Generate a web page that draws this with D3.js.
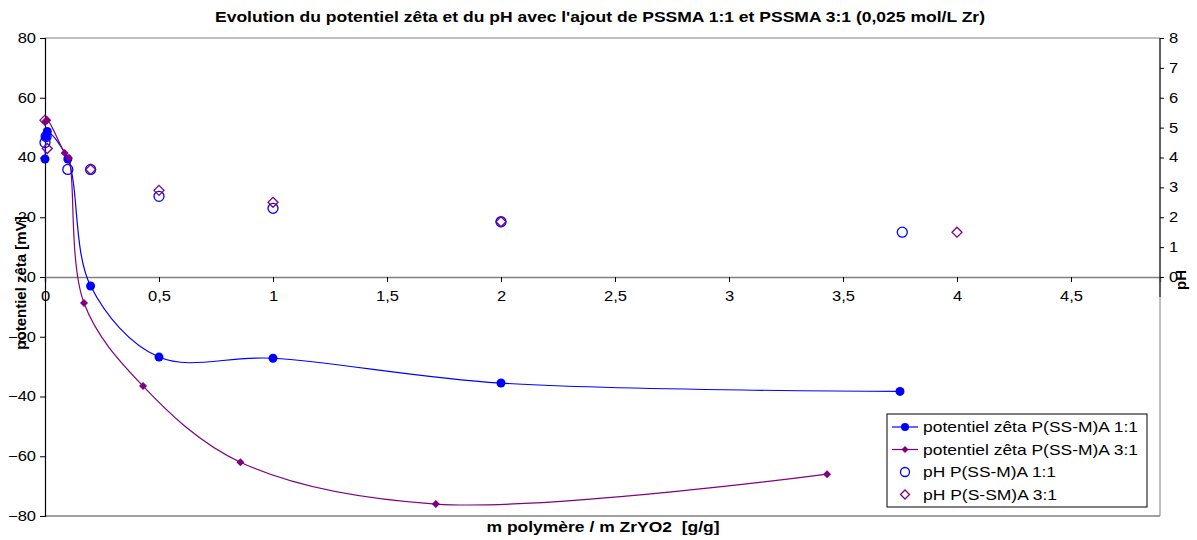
<!DOCTYPE html>
<html>
<head>
<meta charset="utf-8">
<script src="https://cdn.jsdelivr.net/npm/d3@7"></script>
<style>
  body { margin: 0; background: #fff; }
  svg text { font-family: "Liberation Sans", Arial, sans-serif; }
</style>
</head>
<body>
<svg width="1197" height="540"></svg>
<script>
// data
let zetaX11 = [0, 0.005, 0.01, 0.1, 0.2, 0.5, 1, 2, 3.75];
let zeta11 = [39.5, 47, 48.7, 39.5, -3, -26.8, -27.2, -35.5, -38.3];

let zetaX31 = [0, 0.01, 0.086, 0.105, 0.171, 0.43, 0.857, 1.714, 3.43];
let zeta31 = [52, 52.5, 41.5, 39.8, -8.7, -36.5, -62, -76, -66];

let pHX11 = [0, 0.005, 0.1, 0.2, 0.5, 1, 2, 3.76];
let pH11 = [4.5, 4.7, 3.6, 3.6, 2.7, 2.3, 1.85, 1.5];

let pHX31 = [0, 0.01, 0.2, 0.5, 1, 2, 4];
let pH31 = [5.25, 4.3, 3.6, 2.9, 2.5, 1.85, 1.5];

let xTicks = [0, 0.5, 1, 1.5, 2, 2.5, 3, 3.5, 4, 4.5];
let zetaTicks = [-80, -60, -40, -20, 0, 20, 40, 60, 80];
let pHTicks = [0, 1, 2, 3, 4, 5, 6, 7, 8];

let legendLabels = ["potentiel zêta P(SS-M)A 1:1", "potentiel zêta P(SS-M)A 3:1",
  "pH P(SS-M)A 1:1", "pH P(S-SM)A 3:1"];

let svg = d3.select("svg");
let plotL = 45, plotR = 1160, plotT = 38, plotB = 516;
let blue = "#0000ff", purple = "#800080";
let comma = d => String(d).replace(".", ",");

// the reference text is a little wider than the font, so stretch it
function stretch(sel, k) {
  sel.each(function() {
    let w = this.getComputedTextLength();
    d3.select(this).attr("textLength", w * k).attr("lengthAdjust", "spacingAndGlyphs");
  });
}

let x = d3.scaleLinear().domain([0, (plotR - plotL) / 228]).range([plotL, plotR]);
let y = d3.scaleLinear().domain([-80, 80]).range([plotB, plotT]);
let y2 = d3.scaleLinear().domain([0, 8]).range([y(0), y(80)]);

// plot frame
svg.append("line").attr("x1", plotL).attr("x2", plotR).attr("y1", plotT).attr("y2", plotT).attr("stroke", "#808080");
svg.append("line").attr("x1", plotL).attr("x2", plotR).attr("y1", plotB).attr("y2", plotB).attr("stroke", "#808080").attr("stroke-width", 1.5);
svg.append("line").attr("x1", plotR).attr("x2", plotR).attr("y1", plotT).attr("y2", plotB).attr("stroke", "#808080");

// left axis
let gl = svg.append("g").attr("transform", `translate(${plotL},0)`)
  .call(d3.axisLeft(y).tickValues(zetaTicks).tickSize(5).tickPadding(4));
gl.select(".domain").attr("stroke", "#000").attr("stroke-width", 1.2);
gl.selectAll("text").style("font-size", "14px").attr("fill", "#000").call(stretch, 1.18);

// x axis at zero
let gx = svg.append("g").attr("transform", `translate(0,${y(0)})`)
  .call(d3.axisBottom(x).tickValues(xTicks).tickFormat(comma).tickSize(5).tickPadding(9));
gx.select(".domain").attr("stroke", "#808080").attr("stroke-width", 1.5);
gx.selectAll(".tick line").attr("stroke", "#000");
gx.selectAll("text").style("font-size", "14px").attr("fill", "#000").call(stretch, 1.18);

// right pH axis
let gr = svg.append("g").attr("transform", `translate(${plotR},0)`)
  .call(d3.axisRight(y2).tickValues(pHTicks).tickSize(4).tickPadding(5));
gr.select(".domain").remove();
gr.append("line").attr("y1", plotT).attr("y2", y(0) + 20).attr("stroke", "#000");
gr.selectAll("text").style("font-size", "14px").attr("fill", "#000").call(stretch, 1.18);

// curves
let line = d3.line().curve(d3.curveCatmullRom);
let pts = (xs, ys, sy) => xs.map((v, i) => [x(v), sy(ys[i])]);

svg.append("path").attr("d", line(pts(zetaX11, zeta11, y)))
  .attr("fill", "none").attr("stroke", blue).attr("stroke-width", 1.2);
svg.append("path").attr("d", line(pts(zetaX31, zeta31, y)))
  .attr("fill", "none").attr("stroke", purple).attr("stroke-width", 1.2);

let diamond = (s) => `M0,${-s}L${s},0L0,${s}L${-s},0Z`;

svg.append("g").selectAll("circle").data(pts(pHX11, pH11, y2)).join("circle")
  .attr("cx", d => d[0]).attr("cy", d => d[1]).attr("r", 5)
  .attr("fill", "none").attr("stroke", blue).attr("stroke-width", 1.3);
svg.append("g").selectAll("path").data(pts(pHX31, pH31, y2)).join("path")
  .attr("transform", d => `translate(${d[0]},${d[1]})`).attr("d", diamond(5))
  .attr("fill", "none").attr("stroke", purple).attr("stroke-width", 1.3);

svg.append("g").selectAll("circle").data(pts(zetaX11, zeta11, y)).join("circle")
  .attr("cx", d => d[0]).attr("cy", d => d[1]).attr("r", 4.5).attr("fill", blue);
svg.append("g").selectAll("path").data(pts(zetaX31, zeta31, y)).join("path")
  .attr("transform", d => `translate(${d[0]},${d[1]})`).attr("d", diamond(4)).attr("fill", purple);

// titles
svg.append("text").attr("x", 600).attr("y", 22).attr("text-anchor", "middle")
  .style("font-size", "14.5px").style("font-weight", "bold")
  .attr("textLength", 770).attr("lengthAdjust", "spacingAndGlyphs")
  .text("Evolution du potentiel zêta et du pH avec l'ajout de PSSMA 1:1 et PSSMA 3:1 (0,025 mol/L Zr)");
svg.append("text").attr("transform", "translate(26,283) rotate(-90)").attr("text-anchor", "middle")
  .style("font-size", "15px").style("font-weight", "bold").text("potentiel zêta [mV]");
svg.append("text").attr("transform", "translate(1186,280) rotate(-90)").attr("text-anchor", "middle")
  .style("font-size", "15px").style("font-weight", "bold").text("pH");
svg.append("text").attr("x", 603).attr("y", 532).attr("text-anchor", "middle")
  .style("font-size", "15px").style("font-weight", "bold").style("white-space", "pre")
  .attr("textLength", 233).attr("lengthAdjust", "spacingAndGlyphs")
  .text("m polymère / m ZrYO2  [g/g]");

// legend
let legendW = [215, 215, 133, 134];
let lg = svg.append("g").attr("transform", "translate(887,414)");
lg.append("rect").attr("width", 260).attr("height", 93).attr("fill", "#fff").attr("stroke", "#000");
legendLabels.forEach((t, i) => {
  let yy = 13 + i * 22.5;
  let g = lg.append("g").attr("transform", `translate(18,${yy})`);
  let c = i % 2 ? purple : blue;
  if (i < 2) g.append("line").attr("x1", -13).attr("x2", 13).attr("stroke", c).attr("stroke-width", 1.2);
  if (i === 0) g.append("circle").attr("r", 4).attr("fill", c);
  if (i === 1) g.append("path").attr("d", diamond(3.5)).attr("fill", c);
  if (i === 2) g.append("circle").attr("r", 4.5).attr("fill", "none").attr("stroke", c).attr("stroke-width", 1.3);
  if (i === 3) g.append("path").attr("d", diamond(4.5)).attr("fill", "none").attr("stroke", c).attr("stroke-width", 1.3);
  lg.append("text").attr("x", 36).attr("y", yy + 5).style("font-size", "15px")
    .attr("textLength", legendW[i]).attr("lengthAdjust", "spacingAndGlyphs").text(t);
});
</script>
</body>
</html>
